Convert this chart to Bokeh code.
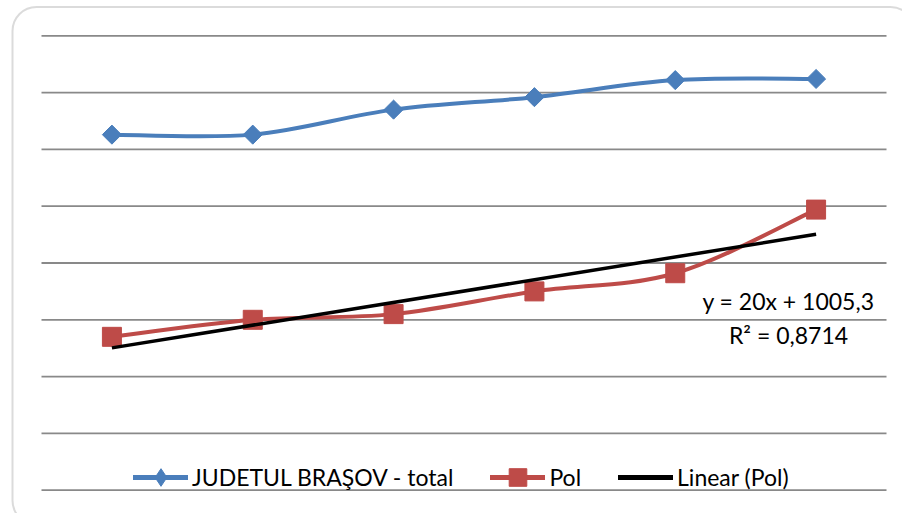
import numpy as np
from bokeh.plotting import figure
from bokeh.models import Range1d, Legend, LegendItem, Label, BoxAnnotation
from bokeh.embed import file_html
from bokeh.resources import INLINE

# ---- data ----
x_index = [1, 2, 3, 4, 5, 6]
brasov_total = [1213, 1213, 1235, 1246, 1261, 1262]
pol = [1035, 1050, 1055, 1075, 1091, 1147]
y_ticks = [900, 950, 1000, 1050, 1100, 1150, 1200, 1250, 1300]
trend_slope = 20
trend_intercept = 1005.3
trend_text = ["y = 20x + 1005,3", "R\u00b2 = 0,8714"]
legend_labels = ["JUDETUL BRA\u015eOV - total", "Pol", "Linear (Pol)"]

# ---- layout (figure pixels) ----
W, H = 902, 513
PX0, PX1 = 41, 886
PY0, PY1 = 35.3, 489.7
X0, X1 = 0.5, 6.5
Y0, Y1 = y_ticks[0], y_ticks[-1]
sx = (PX1 - PX0) / (X1 - X0)
sy = (PY1 - PY0) / (Y1 - Y0)


def dx(px):
    return X0 + (px - PX0) / sx


def dy(py):
    return Y1 - (py - PY0) / sy


def smooth(xs, ys):
    xs = np.asarray(xs, float)
    ys = np.asarray(ys, float)
    n = len(xs)
    xp = np.concatenate([[xs[0]], xs, [xs[-1]]])
    yp = np.concatenate([[ys[0]], ys, [ys[-1]]])
    out = dict(x0=[], y0=[], x1=[], y1=[], cx0=[], cy0=[], cx1=[], cy1=[])
    for i in range(n - 1):
        a, b = i + 1, i + 2
        out["x0"].append(xp[a]); out["y0"].append(yp[a])
        out["x1"].append(xp[b]); out["y1"].append(yp[b])
        out["cx0"].append(xp[a] + (xp[b] - xp[a - 1]) / 6)
        out["cy0"].append(yp[a] + (yp[b] - yp[a - 1]) / 6)
        out["cx1"].append(xp[b] - (xp[b + 1] - xp[a]) / 6)
        out["cy1"].append(yp[b] - (yp[b + 1] - yp[a]) / 6)
    return out


p = figure(width=W, height=H, output_backend="svg", toolbar_location=None,
           x_range=Range1d(dx(0), dx(W)), y_range=Range1d(dy(H), dy(0)),
           x_axis_location=None, y_axis_location=None,
           min_border=0, min_border_left=0, min_border_right=0,
           min_border_top=0, min_border_bottom=0)
p.grid.visible = False
p.outline_line_color = None
p.background_fill_color = "white"
p.border_fill_color = "white"

# gridlines
n = len(y_ticks)
p.segment(x0=[X0] * n, x1=[X1] * n, y0=y_ticks, y1=y_ticks,
          line_color="#898989", line_width=1.8)

BLUE = "#4a7ebb"
RED = "#be4b48"
OFF_X, OFF_Y = [dx(-500)], [dy(-500)]  # single off-canvas point, only for legend swatches

# blue series
sb = smooth(x_index, brasov_total)
p.bezier(**sb, line_color=BLUE, line_width=4)
p.scatter(x=x_index, y=brasov_total, marker="square", size=13.5,
          angle=np.pi / 4, fill_color=BLUE, line_color=BLUE)
blue_leg = p.line(x=OFF_X, y=OFF_Y, line_color=BLUE, line_width=5, line_cap="round")
blue_leg_m = p.scatter(x=OFF_X, y=OFF_Y, marker="diamond", size=18,
                       fill_color=BLUE, line_color=BLUE)

# red series
sr = smooth(x_index, pol)
p.bezier(**sr, line_color=RED, line_width=4)
p.scatter(x=x_index, y=pol, marker="square", size=19,
          fill_color=RED, line_color=RED)
red_leg = p.line(x=OFF_X, y=OFF_Y, line_color=RED, line_width=5, line_cap="round")
red_leg_m = p.scatter(x=OFF_X, y=OFF_Y, marker="square", size=17,
                      fill_color=RED, line_color=RED)

# trend line
tx = np.array([x_index[0], x_index[-1]], float)
p.line(x=tx, y=trend_slope * tx + trend_intercept,
       line_color="black", line_width=3.5)
trend_leg = p.line(x=OFF_X, y=OFF_Y, line_color="black", line_width=5, line_cap="round")

# trend label
FONT = "Lato"
for i, t in enumerate(trend_text):
    p.add_layout(Label(x=dx(788), y=dy(300 + i * 34), text=t,
                       text_align="center", text_baseline="alphabetic",
                       text_font=FONT, text_font_size="23px", text_color="black"))

legend = Legend(items=[
    LegendItem(label=legend_labels[0], renderers=[blue_leg, blue_leg_m]),
    LegendItem(label=legend_labels[1], renderers=[red_leg, red_leg_m]),
    LegendItem(label=legend_labels[2], renderers=[trend_leg]),
], orientation="horizontal", location=(133, 14), padding=0, margin=0,
    spacing=37, label_standoff=4, glyph_width=55, glyph_height=44,
    label_height=44, label_text_font=FONT, label_text_font_size="23px",
    label_text_color="black", border_line_color=None,
    background_fill_alpha=0)
p.add_layout(legend)

# rounded chart border
p.add_layout(BoxAnnotation(left=dx(12), right=dx(914), top=dy(6.5), bottom=dy(524),
                           fill_color=None, fill_alpha=0, line_color="#888888",
                           line_width=2, border_radius=24, level="overlay"))

open("out.html", "w").write(file_html(p, INLINE))
